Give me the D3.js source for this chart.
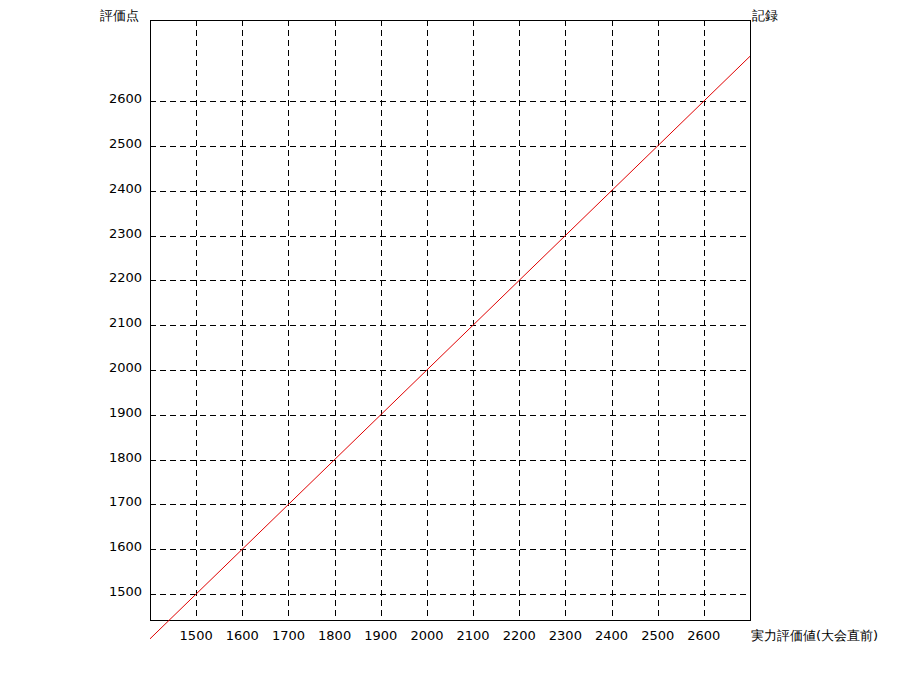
<!DOCTYPE html>
<html><head><meta charset="utf-8">
<script src="https://cdn.jsdelivr.net/npm/d3@7"></script>
<style>body{margin:0;background:#fff}</style>
</head><body><svg id="c" width="900" height="700"></svg>
<script>
const xTicks = [1500,1600,1700,1800,1900,2000,2100,2200,2300,2400,2500,2600];
const yTicks = [1500,1600,1700,1800,1900,2000,2100,2200,2300,2400,2500,2600];
const xDomain = [1400, 2700];
const yDomain = [1442, 2781];
const lineX = [1400, 2700];
const lineY = [1400, 2700];
const titleY = "評価点";
const titleRight = "記録";
const titleX = "実力評価値(大会直前)";

const svg = d3.select("#c");
const L=150,R=750,T=20,B=620;
const x = d3.scaleLinear().domain(xDomain).range([L,R]);
const y = d3.scaleLinear().domain(yDomain).range([B,T]);
const font = "DejaVu Sans, Verdana, sans-serif";

const g = svg.append("g");
g.selectAll(".vg").data(xTicks).join("line")
  .attr("x1",d=>Math.round(x(d))+0.5).attr("x2",d=>Math.round(x(d))+0.5)
  .attr("y1",T).attr("y2",B)
  .attr("stroke","#000").attr("stroke-dasharray","6,4");
g.selectAll(".hg").data(yTicks).join("line")
  .attr("y1",d=>Math.round(y(d))+0.5).attr("y2",d=>Math.round(y(d))+0.5)
  .attr("x1",L).attr("x2",R)
  .attr("stroke","#000").attr("stroke-dasharray","6,4");

g.append("rect").attr("x",L+0.5).attr("y",T+0.5).attr("width",R-L).attr("height",B-T)
  .attr("fill","none").attr("stroke","#000");

const pts = lineX.map((v,i)=>[v,lineY[i]]);
g.append("path").datum(pts)
  .attr("d", d3.line().x(d=>x(d[0])).y(d=>y(d[1])))
  .attr("fill","none").attr("stroke","#e00000").attr("stroke-width",1);

g.selectAll(".xl").data(xTicks).join("text")
  .attr("x",d=>x(d)).attr("y",640).attr("text-anchor","middle")
  .attr("font-family",font).attr("font-size",13).text(d=>d);
g.selectAll(".yl").data(yTicks).join("text")
  .attr("x",142).attr("y",d=>y(d)+2).attr("text-anchor","end")
  .attr("font-family",font).attr("font-size",13).text(d=>d);

g.append("text").attr("x",100).attr("y",20).attr("font-family",font).attr("font-size",13).text(titleY);
g.append("text").attr("x",752).attr("y",20).attr("font-family",font).attr("font-size",13).text(titleRight);
g.append("text").attr("x",751).attr("y",640).attr("font-family",font).attr("font-size",13).text(titleX);
</script></body></html>
